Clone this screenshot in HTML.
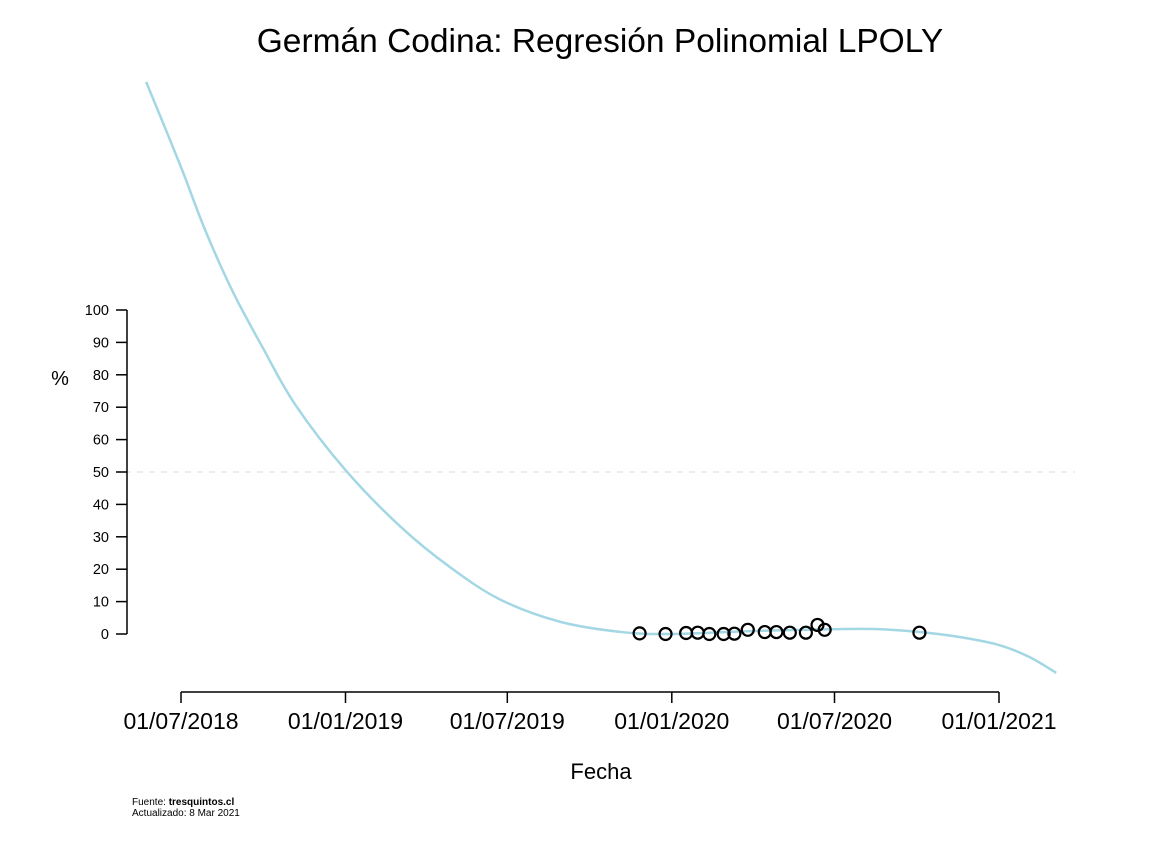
<!DOCTYPE html>
<html><head><meta charset="utf-8"><style>
body{margin:0;background:#fff;}
svg{display:block;font-family:"Liberation Sans",Arial,sans-serif;}
</style></head><body>
<svg id="chart" width="1160" height="843">
<text x="600" y="52" text-anchor="middle" font-size="33.5">Germán Codina: Regresión Polinomial LPOLY</text>
<text x="60" y="385" text-anchor="middle" font-size="20">%</text>
<text x="601" y="779" text-anchor="middle" font-size="22">Fecha</text>
<text x="132" y="805" font-size="10">Fuente: <tspan font-weight="bold">tresquintos.cl</tspan></text>
<text x="132" y="816" font-size="10">Actualizado: 8 Mar 2021</text>
<g id="axes"></g>
<g id="marks"></g>
</svg>
<script>
const yTicks=[0,10,20,30,40,50,60,70,80,90,100];
const xTickDates=["2018-07-01","2019-01-01","2019-07-01","2020-01-01","2020-07-01","2021-01-01"];
const xTickLabels=["01/07/2018","01/01/2019","01/07/2019","01/01/2020","01/07/2020","01/01/2021"];
const curveDates=["2018-05-23","2018-06-30","2018-07-28","2018-08-28","2018-09-30","2018-11-06","2019-01-01","2019-03-04","2019-04-29","2019-06-24","2019-08-30","2019-11-06","2020-01-01","2020-03-29","2020-07-01","2020-08-19","2020-10-04","2020-11-17","2021-01-01","2021-02-04","2021-03-06"];
const curveValues=[170.4,144.8,124.7,105.6,88.6,70.7,50.6,33.0,20.4,10.5,3.7,0.6,0,0.9,1.5,1.5,0.6,-0.9,-3.4,-7.1,-12.0];
const pointDates=["2019-11-26","2019-12-25","2020-01-17","2020-01-30","2020-02-12","2020-02-28","2020-03-11","2020-03-26","2020-04-14","2020-04-27","2020-05-12","2020-05-30","2020-06-12","2020-06-20","2020-10-04"];
const pointValues=[0.2,0,0.3,0.4,0,0,0.1,1.3,0.6,0.6,0.4,0.4,2.8,1.3,0.4];
const referenceValue=50;

const NS="http://www.w3.org/2000/svg";
const t0=Date.parse("2018-07-01"),t1=Date.parse("2021-01-01");
function xs(d){return 181+(Date.parse(d)-t0)/(t1-t0)*(999-181);}
function ys(v){return 634-v*3.24;}
function mk(tag,attrs,parent){const e=document.createElementNS(NS,tag);for(const k in attrs)e.setAttribute(k,attrs[k]);parent.appendChild(e);return e;}
const axes=document.getElementById('axes'),marks=document.getElementById('marks');

const ref=mk('line',{x1:125,x2:1075,y1:ys(referenceValue),y2:ys(referenceValue),stroke:'#ddd','stroke-dasharray':'6,6','stroke-width':1},axes);



const ya=mk('line',{x1:127,x2:127,y1:ys(yTicks[0]),y2:ys(yTicks[yTicks.length-1]),stroke:'#000','stroke-width':1.5},axes);


yTicks.forEach(v=>{
 const tk=mk('line',{x1:116,x2:127,y1:ys(v),y2:ys(v),stroke:'#000','stroke-width':1.5},axes);
 
 
 const tx=mk('text',{x:109,y:ys(v)+5,'text-anchor':'end','font-size':14.5},axes);
 tx.textContent=v;
 
 
});
const xa=mk('line',{x1:xs(xTickDates[0]),x2:xs(xTickDates[xTickDates.length-1]),y1:692,y2:692,stroke:'#000','stroke-width':1.5},axes);


xTickDates.forEach((d,i)=>{
 const tk=mk('line',{x1:xs(d),x2:xs(d),y1:692,y2:703,stroke:'#000','stroke-width':1.5},axes);
 
 
 const tx=mk('text',{x:xs(d),y:729,'text-anchor':'middle','font-size':23},axes);
 tx.textContent=xTickLabels[i];
 
 
});

const pts=curveDates.map((d,i)=>[xs(d),ys(curveValues[i])]);
let path="M"+pts[0][0]+","+pts[0][1];
for(let i=0;i<pts.length-1;i++){
 const p0=pts[Math.max(0,i-1)],p1=pts[i],p2=pts[i+1],p3=pts[Math.min(pts.length-1,i+2)];
 const c1=[p1[0]+(p2[0]-p0[0])/6,p1[1]+(p2[1]-p0[1])/6],c2=[p2[0]-(p3[0]-p1[0])/6,p2[1]-(p3[1]-p1[1])/6];
 path+=` C${c1[0]},${c1[1]} ${c2[0]},${c2[1]} ${p2[0]},${p2[1]}`;
}
const cv=mk('path',{d:path,fill:'none',stroke:'#a3d7e4','stroke-width':2.5},marks);



pointDates.forEach((d,i)=>{
 const c=mk('circle',{cx:xs(d),cy:ys(pointValues[i]),r:6,fill:'none',stroke:'#000','stroke-width':2.2},marks);
 
 
});
</script>
</body></html>
